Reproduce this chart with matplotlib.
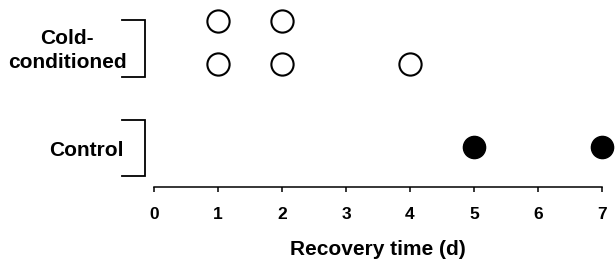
import matplotlib.pyplot as plt

plt.rcParams["font.family"] = ["Liberation Sans", "DejaVu Sans"]
plt.rcParams["font.weight"] = "bold"

# recovery times (days) per row
cold_row_top = [1, 2]
cold_row_bottom = [1, 2, 4]
control_row = [5, 7]

row_y = {"cold_top": 4.15, "cold_bottom": 3.075, "control": 1.0}
group_labels = ["Cold-\nconditioned", "Control"]
x_ticks = list(range(0, 8))

fig = plt.figure(figsize=(6.16, 2.62), dpi=100)
ax = fig.add_axes([154 / 616, 1 - 187 / 262, 448 / 616, 187 / 262])

open_style = dict(marker="o", linestyle="none", markersize=16,
                  markerfacecolor="white", markeredgecolor="black",
                  markeredgewidth=1.5, clip_on=False)
ax.plot(cold_row_top, [row_y["cold_top"]] * len(cold_row_top), **open_style)
ax.plot(cold_row_bottom, [row_y["cold_bottom"]] * len(cold_row_bottom), **open_style)
ax.plot(control_row, [row_y["control"]] * len(control_row), marker="o",
        linestyle="none", markersize=16, color="black", clip_on=False)

ax.set_xlim(0, 7)
ax.set_ylim(0, 4.675)
ax.set_xticks(x_ticks)
ax.set_xticklabels([str(t) for t in x_ticks], fontsize=12.5, fontweight="bold")
ax.set_yticks([])
for side in ("left", "right", "top"):
    ax.spines[side].set_visible(False)
ax.spines["bottom"].set_linewidth(1.1)
ax.tick_params(axis="x", direction="out", length=3.5, width=1.1, pad=11)
ax.set_xlabel("Recovery time (d)", fontsize=15, fontweight="bold", labelpad=13)

# group brackets
brackets = [(2.75, 4.175), (0.275, 1.675)]
label_x = [-0.43, -0.47]
bx, arm = -0.14, -0.5
for (lo, hi), label, lx in zip(brackets, group_labels, label_x):
    ax.plot([arm, bx, bx, arm], [hi, hi, lo, lo], color="black",
            linewidth=1.3, clip_on=False, solid_joinstyle="miter")
    ax.text(lx, (lo + hi) / 2 - 0.05, label, ha="right", va="center",
            multialignment="center", fontsize=15, fontweight="bold",
            linespacing=1.3)

fig.savefig("out.png", dpi=100)
